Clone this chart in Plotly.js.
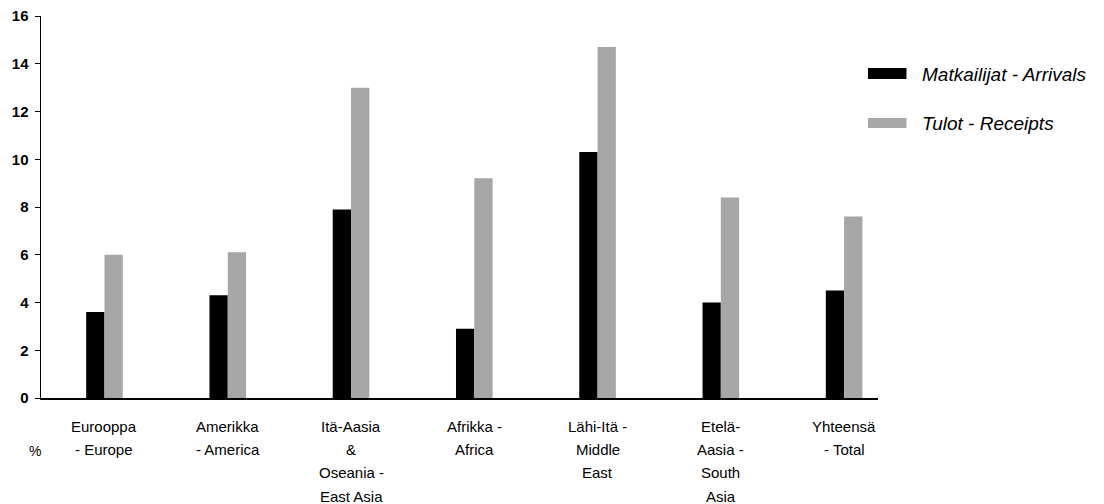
<!DOCTYPE html>
<html>
<head>
<meta charset="utf-8">
<script src="https://cdn.plot.ly/plotly-3.0.1.min.js"></script>
<style>
  html, body { margin: 0; padding: 0; background: #ffffff; }
  #chart { width: 1104px; height: 504px; }
</style>
</head>
<body>
<div id="chart"></div>
<script>
// ---- Data ----
const categories = ["Eurooppa - Europe", "Amerikka - America", "Itä-Aasia & Oseania - East Asia",
                    "Afrikka - Africa", "Lähi-Itä - Middle East", "Etelä-Aasia - South Asia", "Yhteensä - Total"];
const categoryLabelLines = [
  ["Eurooppa", "- Europe"],
  ["Amerikka", "- America"],
  ["Itä-Aasia", "&", "Oseania -", "East Asia"],
  ["Afrikka -", "Africa"],
  ["Lähi-Itä -", "Middle", "East"],
  ["Etelä-", "Aasia -", "South", "Asia"],
  ["Yhteensä", "- Total"]
];
const arrivals = [3.6, 4.3, 7.9, 2.9, 10.3, 4.0, 4.5];
const receipts = [6.0, 6.1, 13.0, 9.2, 14.7, 8.4, 7.6];
const seriesNames = ["Matkailijat - Arrivals", "Tulot - Receipts"];
const yTicks = [0, 2, 4, 6, 8, 10, 12, 14, 16];
const unitLabel = "%";

// ---- Styles ----
const FONT = "'Liberation Sans', Arial, Helvetica, sans-serif";
const xIdx = categories.map((c, i) => i);

const traces = [
  {
    type: "bar", name: seriesNames[0], x: xIdx, y: arrivals,
    marker: { color: "#000000", line: { width: 0 } },
    hoverinfo: "skip", showlegend: false
  },
  {
    type: "bar", name: seriesNames[1], x: xIdx, y: receipts,
    marker: {
      color: "#bdbdbd",
      line: { width: 0 },
      pattern: { shape: ".", fgcolor: "#6e6e6e", bgcolor: "#d2d2d2", size: 2, solidity: 0.5 }
    },
    hoverinfo: "skip", showlegend: false
  }
];

const annotations = [];
categoryLabelLines.forEach((lines, i) => {
  lines.forEach((ln, k) => {
    annotations.push({
      xref: "x", yref: "paper", x: i, y: 0,
      text: ln, showarrow: false,
      xanchor: "center", yanchor: "middle",
      yshift: -(28.5 + 23.2 * k),
      font: { family: FONT, size: 15, color: "#000" }
    });
  });
});
annotations.push({
  xref: "paper", yref: "paper", x: -0.0072, y: -0.139,
  text: unitLabel, showarrow: false, xanchor: "center", yanchor: "middle",
  font: { family: FONT, size: 14, color: "#000" }
});
// Legend text
annotations.push({
  xref: "paper", yref: "paper", x: 1.050, y: 0.848,
  text: "<i>" + seriesNames[0] + "</i>", showarrow: false, xanchor: "left", yanchor: "middle",
  font: { family: FONT, size: 19, color: "#000" }
});
annotations.push({
  xref: "paper", yref: "paper", x: 1.050, y: 0.718,
  text: "<i>" + seriesNames[1] + "</i>", showarrow: false, xanchor: "left", yanchor: "middle",
  font: { family: FONT, size: 19, color: "#000" }
});

const shapes = [
  { type: "rect", xref: "paper", yref: "paper", x0: 0.988, x1: 1.034, y0: 0.835, y1: 0.864,
    fillcolor: "#000000", line: { width: 0 } },
  { type: "rect", xref: "paper", yref: "paper", x0: 0.988, x1: 1.034, y0: 0.707, y1: 0.733,
    fillcolor: "#a8a8a8", line: { width: 0 } }
];

const layout = {
  width: 1104, height: 504,
  margin: { l: 41, r: 226, t: 16, b: 106, pad: 0 },
  paper_bgcolor: "#ffffff", plot_bgcolor: "#ffffff",
  barmode: "group", bargap: 0.703, bargroupgap: 0,
  showlegend: false,
  font: { family: FONT, color: "#000" },
  xaxis: {
    range: [-0.515, 6.275], showgrid: false, zeroline: false,
    showline: true, linecolor: "#000", linewidth: 1.5,
    showticklabels: false, ticks: "", fixedrange: true
  },
  yaxis: {
    range: [0, 16], tickvals: yTicks, showgrid: false, zeroline: false,
    showline: true, linecolor: "#000", linewidth: 1.5,
    ticks: "outside", ticklen: 5, tickwidth: 1, tickcolor: "#000",
    ticklabelstandoff: 3,
    tickfont: { family: FONT, size: 15, color: "#000", weight: "bold" },
    fixedrange: true
  },
  yaxis2: {
    overlaying: "y", anchor: "x", side: "left",
    range: [0, 16], tickvals: yTicks, showgrid: false, zeroline: false,
    showline: false, showticklabels: false,
    ticks: "inside", ticklen: 5, tickwidth: 1, tickcolor: "#000"
  },
  annotations: annotations,
  shapes: shapes
};

Plotly.newPlot("chart", traces, layout, { displayModeBar: false, staticPlot: true });
</script>
</body>
</html>
